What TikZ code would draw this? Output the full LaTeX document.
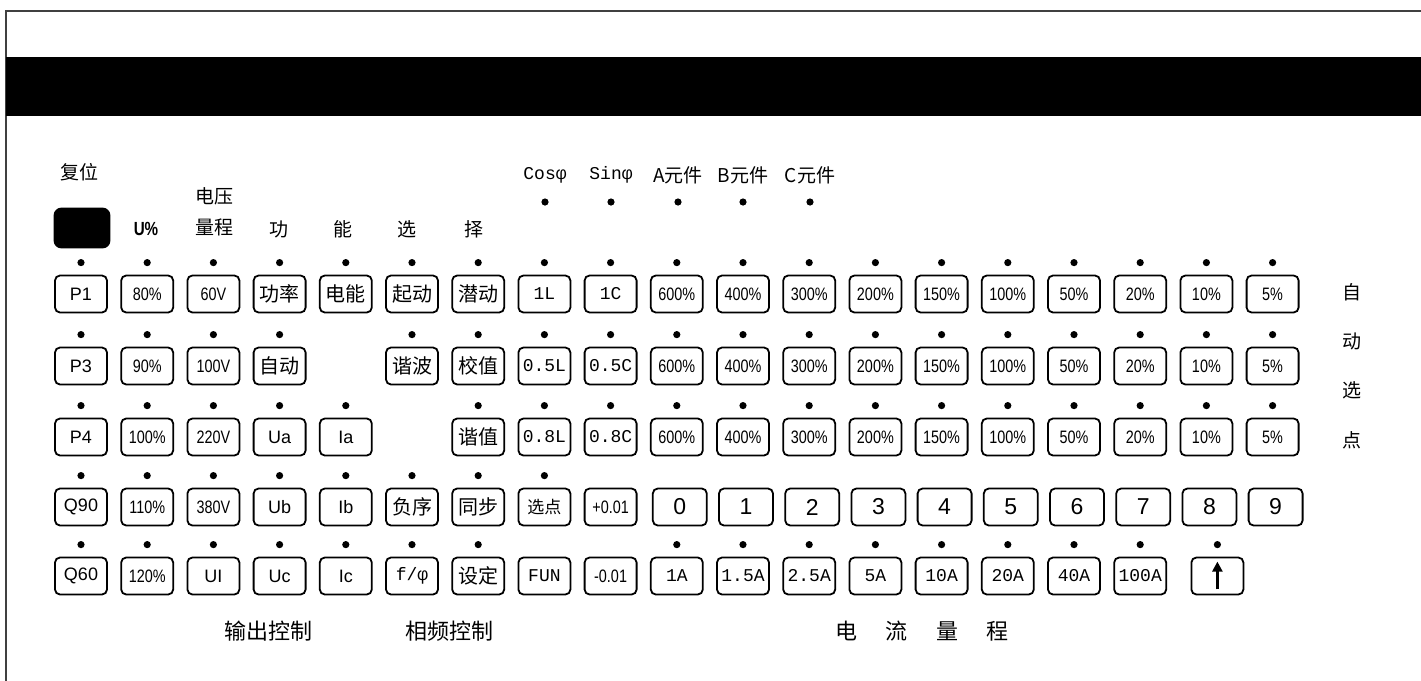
\documentclass[tikz,border=0pt]{standalone}
\usepackage{fontspec}
\usepackage{tikz}
\usetikzlibrary{positioning, arrows.meta}
\setmainfont{Liberation Sans}
\setmonofont{Liberation Mono}
\newfontfamily\cjk{Noto Sans CJK SC}
\newfontfamily\narrowfont{Liberation Sans}[FakeStretch=0.8]
\tikzstyle{key} = [rectangle, rounded corners=2.5pt, minimum width=26pt, minimum height=18.5pt, inner sep=0pt, text centered, draw=black, line width=0.9pt, font=\fontsize{9}{9}\selectfont]
\tikzstyle{lamp} = [circle, fill=black, inner sep=0pt, minimum size=3.6pt]
\tikzstyle{led} = [label={[lamp, label distance=4pt]above:{}}]
\tikzstyle{pct} = [font=\narrowfont\fontsize{9}{9}\selectfont]
\tikzstyle{han} = [font=\cjk\fontsize{10}{10}\selectfont]
\tikzstyle{mono} = [font=\ttfamily\fontsize{9}{9}\selectfont]
\tikzstyle{digit} = [minimum width=27pt, font=\fontsize{11.5}{12}\selectfont]
\tikzstyle{toptext} = [font=\cjk\fontsize{9.5}{15.5}\selectfont]
\tikzstyle{bottomtext} = [font=\cjk\fontsize{11}{11}\selectfont]
\tikzstyle{arrow} = [line width=1.2pt, -{Triangle[length=5pt, width=5pt]}]
\begin{document}
\begin{tikzpicture}[x=0.5pt, y=-0.5pt, node distance=33.1pt]
	\useasboundingbox (0,0) rectangle (1421,681);
	\draw [line width=1pt, black!75] (1421,11) -- (6,11) -- (6,681);
	\fill [black] (6,57) rectangle (1421,116);

	\node (fuwei) [toptext] at (80,172) {复位};
	\node (reset) [key, fill=black, minimum width=27.5pt, minimum height=19.5pt, rounded corners=3.5pt] at (82,228) {};
	\node (upct) [font=\narrowfont\bfseries\fontsize{9.5}{9.5}\selectfont] at (146,229) {U\%};
	\node (dianya) [toptext, align=center] at (214,212) {电压\\量程};
	\node (gong) [toptext] at (279,229) {功};
	\node (neng) [toptext] at (343,229) {能};
	\node (xuan) [toptext] at (407,229) {选};
	\node (ze) [toptext] at (474,229) {择};

	\node (cos) [mono] at (545,175) {Cosφ};
	\node (sin) [mono] at (611,175) {Sinφ};
	\node (ayuan) [toptext] at (678,175) {A元件};
	\node (byuan) [toptext] at (743,175) {B元件};
	\node (cyuan) [toptext] at (810,175) {C元件};
	\node (cosled) [lamp] at (545,202) {};
	\node (sinled) [lamp] at (611,202) {};
	\node (aled) [lamp] at (678,202) {};
	\node (bled) [lamp] at (743,202) {};
	\node (cled) [lamp] at (810,202) {};

	\node (p1) [key, led] at (81,294) {P1};
	\node (u80) [key, led, pct, right of=p1] {80\%};
	\node (v60) [key, led, pct, right of=u80] {60V};
	\node (gonglv) [key, led, han, right of=v60] {功率};
	\node (dianneng) [key, led, han, right of=gonglv] {电能};
	\node (qidong) [key, led, han, right of=dianneng] {起动};
	\node (qiandong) [key, led, han, right of=qidong] {潜动};
	\node (l10) [key, led, mono, right of=qiandong] {1L};
	\node (c10) [key, led, mono, right of=l10] {1C};
	\node (a600) [key, led, pct, right of=c10] {600\%};
	\node (a400) [key, led, pct, right of=a600] {400\%};
	\node (a300) [key, led, pct, right of=a400] {300\%};
	\node (a200) [key, led, pct, right of=a300] {200\%};
	\node (a150) [key, led, pct, right of=a200] {150\%};
	\node (a100) [key, led, pct, right of=a150] {100\%};
	\node (a50) [key, led, pct, right of=a100] {50\%};
	\node (a20) [key, led, pct, right of=a50] {20\%};
	\node (a10) [key, led, pct, right of=a20] {10\%};
	\node (a5) [key, led, pct, right of=a10] {5\%};

	\node (p3) [key, led] at (81,366) {P3};
	\node (u90) [key, led, pct, right of=p3] {90\%};
	\node (v100) [key, led, pct, right of=u90] {100V};
	\node (zidong) [key, led, han, right of=v100] {自动};
	\node (xiebo) [key, led, han, right of=zidong, xshift=33.1pt] {谐波};
	\node (jiaozhi) [key, led, han, right of=xiebo] {校值};
	\node (l05) [key, led, mono, right of=jiaozhi] {0.5L};
	\node (c05) [key, led, mono, right of=l05] {0.5C};
	\node (b600) [key, led, pct, right of=c05] {600\%};
	\node (b400) [key, led, pct, right of=b600] {400\%};
	\node (b300) [key, led, pct, right of=b400] {300\%};
	\node (b200) [key, led, pct, right of=b300] {200\%};
	\node (b150) [key, led, pct, right of=b200] {150\%};
	\node (b100) [key, led, pct, right of=b150] {100\%};
	\node (b50) [key, led, pct, right of=b100] {50\%};
	\node (b20) [key, led, pct, right of=b50] {20\%};
	\node (b10) [key, led, pct, right of=b20] {10\%};
	\node (b5) [key, led, pct, right of=b10] {5\%};

	\node (p4) [key, led] at (81,437) {P4};
	\node (u100) [key, led, pct, right of=p4] {100\%};
	\node (v220) [key, led, pct, right of=u100] {220V};
	\node (ua) [key, led, right of=v220] {Ua};
	\node (ia) [key, led, right of=ua] {Ia};
	\node (xiezhi) [key, led, han, right of=ia, xshift=33.1pt] {谐值};
	\node (l08) [key, led, mono, right of=xiezhi] {0.8L};
	\node (c08) [key, led, mono, right of=l08] {0.8C};
	\node (c600) [key, led, pct, right of=c08] {600\%};
	\node (c400) [key, led, pct, right of=c600] {400\%};
	\node (c300) [key, led, pct, right of=c400] {300\%};
	\node (c200) [key, led, pct, right of=c300] {200\%};
	\node (c150) [key, led, pct, right of=c200] {150\%};
	\node (c100) [key, led, pct, right of=c150] {100\%};
	\node (c50) [key, led, pct, right of=c100] {50\%};
	\node (c20) [key, led, pct, right of=c50] {20\%};
	\node (c10p) [key, led, pct, right of=c20] {10\%};
	\node (c5) [key, led, pct, right of=c10p] {5\%};

	\node (q90) [key, led] at (81,507) {Q90};
	\node (u110) [key, led, pct, right of=q90] {110\%};
	\node (v380) [key, led, pct, right of=u110] {380V};
	\node (ub) [key, led, right of=v380] {Ub};
	\node (ib) [key, led, right of=ub] {Ib};
	\node (fuxu) [key, led, han, right of=ib] {负序};
	\node (tongbu) [key, led, han, right of=fuxu] {同步};
	\node (xuandian) [key, led, han, font=\cjk\fontsize{8.5}{9}\selectfont, right of=tongbu] {选点};
	\node (plusstep) [key, pct, right of=xuandian] {+0.01};
	\node (n0) [key, digit, right of=plusstep, xshift=1.5pt] {0};
	\node (n1) [key, digit, right of=n0] {1};
	\node (n2) [key, digit, right of=n1] {2};
	\node (n3) [key, digit, right of=n2] {3};
	\node (n4) [key, digit, right of=n3] {4};
	\node (n5) [key, digit, right of=n4] {5};
	\node (n6) [key, digit, right of=n5] {6};
	\node (n7) [key, digit, right of=n6] {7};
	\node (n8) [key, digit, right of=n7] {8};
	\node (n9) [key, digit, right of=n8] {9};

	\node (q60) [key, led] at (81,576) {Q60};
	\node (u120) [key, led, pct, right of=q60] {120\%};
	\node (uiall) [key, led, right of=u120] {UI};
	\node (uc) [key, led, right of=uiall] {Uc};
	\node (ic) [key, led, right of=uc] {Ic};
	\node (fphi) [key, led, mono, right of=ic] {f/φ};
	\node (sheding) [key, led, han, right of=fphi] {设定};
	\node (fun) [key, mono, right of=sheding] {FUN};
	\node (minusstep) [key, pct, right of=fun] {-0.01};
	\node (i1) [key, led, mono, right of=minusstep] {1A};
	\node (i15) [key, led, mono, right of=i1] {1.5A};
	\node (i25) [key, led, mono, right of=i15] {2.5A};
	\node (i5) [key, led, mono, right of=i25] {5A};
	\node (i10) [key, led, mono, right of=i5] {10A};
	\node (i20) [key, led, mono, right of=i10] {20A};
	\node (i40) [key, led, mono, right of=i20] {40A};
	\node (i100) [key, led, mono, right of=i40] {100A};
	\node (up) [key, led, right of=i100, xshift=5.5pt] {};
	\draw [arrow] ([yshift=3pt]up.south) -- ([yshift=-2.5pt]up.north);

	\node (zidongxuandian) [toptext, align=center, font=\cjk\fontsize{9.5}{24.7}\selectfont] at (1352,366) {自\\动\\选\\点};
	\node (shuchu) [bottomtext] at (268,631) {输出控制};
	\node (xiangpin) [bottomtext] at (449,631) {相频控制};
	\node (dianliu) [bottomtext] at (922,631) {电\hspace{1.3em}流\hspace{1.3em}量\hspace{1.3em}程};
\end{tikzpicture}
\end{document}
